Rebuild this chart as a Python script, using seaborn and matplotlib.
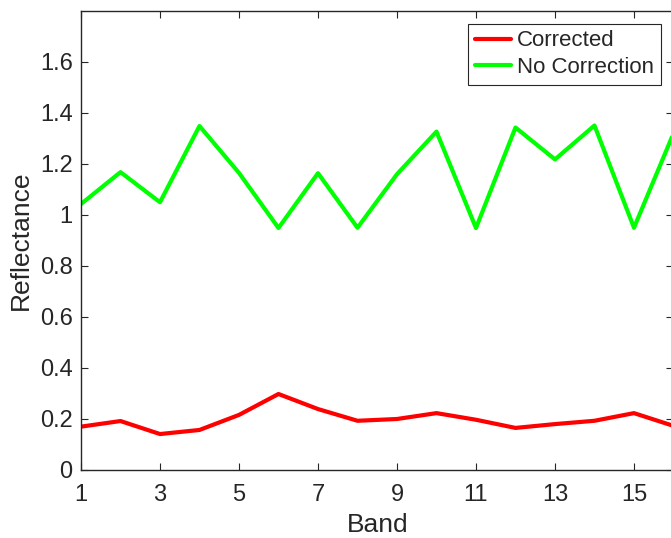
import numpy as np
import pandas as pd
import matplotlib
matplotlib.use('Agg')
import matplotlib.pyplot as plt
import seaborn as sns

sns.set_style('white')
plt.rcParams['font.family'] = ['Liberation Sans', 'DejaVu Sans']

# ====
# DATA
# ====
bands = list(range(1, 17))
corrected = [0.170, 0.192, 0.141, 0.157, 0.216, 0.298, 0.239, 0.193,
             0.200, 0.223, 0.197, 0.165, 0.180, 0.193, 0.223, 0.173]
no_correction = [1.043, 1.168, 1.050, 1.349, 1.165, 0.949, 1.164, 0.950,
                 1.160, 1.327, 0.949, 1.343, 1.218, 1.351, 0.950, 1.320]
series_names = ['Corrected', 'No Correction']
series_colors = ['#ff0000', '#00ff00']

df = pd.DataFrame({'Band': bands * 2,
                   'Reflectance': corrected + no_correction,
                   'Series': [series_names[0]] * len(bands) + [series_names[1]] * len(bands)})

# ====
# PLOT
# ====
grey = '#262626'
fig = plt.figure(figsize=(6.71, 5.38), dpi=100)
ax = fig.add_axes([0.1207, 0.1264, 0.8830, 0.8532])

sns.lineplot(data=df, x='Band', y='Reflectance', hue='Series',
             palette=series_colors, linewidth=3, ax=ax)

ax.set_xlim(1, 16)
ax.set_ylim(0, 1.8)
ax.set_xticks([1, 3, 5, 7, 9, 11, 13, 15])
ax.set_yticks([0, 0.2, 0.4, 0.6, 0.8, 1.0, 1.2, 1.4, 1.6])
ax.set_yticklabels(['0', '0.2', '0.4', '0.6', '0.8', '1', '1.2', '1.4', '1.6'])

for side in ['left', 'bottom', 'top', 'right']:
    ax.spines[side].set_visible(True)
    ax.spines[side].set_color(grey)
    ax.spines[side].set_linewidth(1.0)

ax.tick_params(direction='in', length=5, width=0.8, colors=grey,
               labelsize=17, top=True, right=True, bottom=True, left=True, pad=6)
ax.tick_params(axis='x', pad=10)
ax.set_xlabel('Band', fontsize=19, color=grey, labelpad=5)
ax.set_ylabel('Reflectance', fontsize=19, color=grey, labelpad=5)

leg = ax.legend(loc='upper right', bbox_to_anchor=(0.979, 0.972), fontsize=16,
                frameon=True, fancybox=False, framealpha=1, edgecolor=grey,
                handlelength=1.6, handletextpad=0.3, borderpad=0.3,
                labelspacing=0.25, borderaxespad=0.0)
leg.get_frame().set_linewidth(0.8)
for h in leg.get_lines():
    h.set_linewidth(3)

plt.savefig('out.png', dpi=100)
plt.close()
